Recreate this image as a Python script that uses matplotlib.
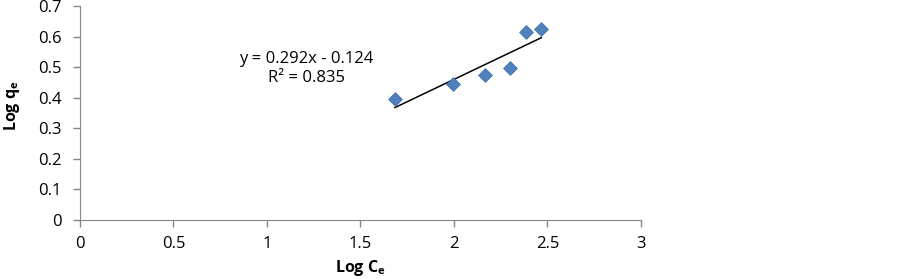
import numpy as np
import matplotlib
matplotlib.use('Agg')
from matplotlib import pyplot as plt

log_ce = [1.684, 1.996, 2.166, 2.300, 2.385, 2.467]
log_qe = [0.396, 0.446, 0.474, 0.496, 0.614, 0.624]
slope, intercept = 0.292, -0.124
eq_text = 'y = 0.292x - 0.124\nR² = 0.835'
xticks = [0, 0.5, 1, 1.5, 2, 2.5, 3]
xtick_labels = ['0', '0.5', '1', '1.5', '2', '2.5', '3']
yticks = [0, 0.1, 0.2, 0.3, 0.4, 0.5, 0.6, 0.7]
ytick_labels = ['0', '0.1', '0.2', '0.3', '0.4', '0.5', '0.6', '0.7']

plt.rcParams['font.family'] = ['Open Sans', 'DejaVu Sans']
plt.rcParams['mathtext.fontset'] = 'custom'
plt.rcParams['mathtext.rm'] = 'Open Sans'
plt.rcParams['mathtext.bf'] = 'Open Sans:bold'


def main():
    W, H = 903, 279
    fig = plt.figure(figsize=(W / 100, H / 100), dpi=100)
    ax = fig.add_axes([80 / W, (H - 220) / H, 561 / W, 214 / H])

    ax.scatter(log_ce, log_qe, marker='D', s=50, color='#4f81bd',
               edgecolors='#3d6ea8', linewidths=0.5, zorder=3)
    xs = np.array([min(log_ce), max(log_ce)])
    ax.plot(xs, slope * xs + intercept, color='black', lw=1.1, zorder=2)

    ax.text(1.21, 0.495, eq_text, ha='center', va='center', fontsize=12,
            linespacing=1.25)

    ax.set_xlim(0, 3)
    ax.set_ylim(0, 0.7)
    ax.set_xticks(xticks)
    ax.set_xticklabels(xtick_labels)
    ax.set_yticks(yticks)
    ax.set_yticklabels(ytick_labels)

    for side in ['top', 'right']:
        ax.spines[side].set_visible(False)
    for side in ['left', 'bottom']:
        ax.spines[side].set_color('#868686')
    ax.tick_params(colors='#868686', labelcolor='black', labelsize=12,
                   length=5, width=1)
    ax.tick_params(axis='x', pad=6.5)
    ax.tick_params(axis='y', pad=8)

    fig.text(360 / W, 1 - 268 / H, r'Log C$_\mathbf{e}$', fontsize=11.5,
             fontweight='bold', ha='center', va='center')
    fig.text(12 / W, 1 - 106 / H, r'Log q$_\mathbf{e}$', fontsize=11.5,
             fontweight='bold', ha='center', va='center', rotation=90)

    fig.savefig('out.png', dpi=100)


if __name__ == '__main__':
    main()
